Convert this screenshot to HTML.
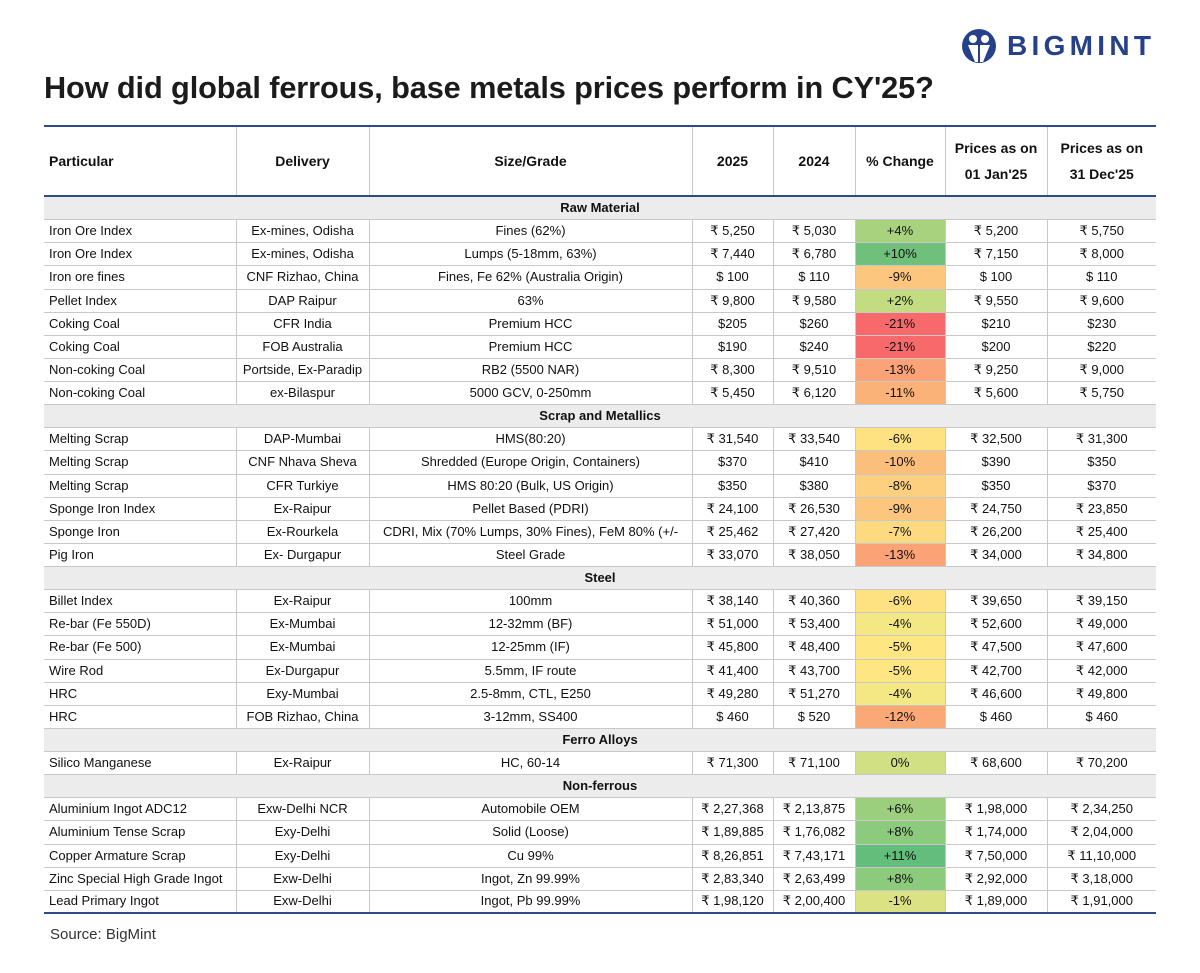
<!DOCTYPE html>
<html><head><meta charset="utf-8"><style>
body{margin:0;width:1200px;height:973px;background:#fff;font-family:"Liberation Sans",sans-serif;color:#111;position:relative;overflow:hidden}
h1{position:absolute;left:44px;top:70px;margin:0;font-size:30.7px;font-weight:bold;letter-spacing:-0.1px;color:#1b1b1b}
.logo{position:absolute;left:960px;top:28px;display:flex;align-items:center;gap:9px}
.logo span{font-size:28px;font-weight:bold;color:#26418a;letter-spacing:4.3px}
table{position:absolute;left:44px;top:125px;width:1112px;border-collapse:collapse;table-layout:fixed;font-size:13px}
td,th{border:1px solid #c8c8c8;text-align:center;padding:0;height:21px;line-height:14px;white-space:nowrap;overflow:hidden}
thead th{height:68px;font-size:14px;font-weight:bold;line-height:26px;border-top:2px solid #2f4a8a;border-bottom:2px solid #2f4a8a}
td:first-child,th:first-child{text-align:left;padding-left:5px;border-left:none}
td:last-child,th:last-child{border-right:none}
tr.sec td{background:#ececec;font-weight:bold;text-align:center;padding:0}
tbody tr:last-child td{border-bottom:2px solid #2f4a8a}
.src{position:absolute;left:50px;top:926px;font-size:15px;color:#333}
</style></head><body>
<h1>How did global ferrous, base metals prices perform in CY'25?</h1>
<div class="logo">
<svg width="38" height="36" viewBox="0 0 38 36"><circle cx="19" cy="18" r="17" fill="#26418a"/><circle cx="13" cy="11" r="4" fill="#fff"/><circle cx="25" cy="11" r="4" fill="#fff"/><path d="M8 17h10v17h-3zM20 17h10l-7 17h-3z" fill="#fff"/></svg>
<span>BIGMINT</span></div>
<table id="tbl">
<colgroup><col style="width:192px"><col style="width:133px"><col style="width:323px"><col style="width:81px"><col style="width:82px"><col style="width:90px"><col style="width:102px"><col style="width:109px"></colgroup>
<thead><tr><th>Particular</th><th>Delivery</th><th>Size/Grade</th><th>2025</th><th>2024</th><th>% Change</th><th>Prices as on<br>01 Jan'25</th><th>Prices as on<br>31 Dec'25</th></tr></thead>
<tbody id="tb"></tbody></table>
<div class="src">Source: BigMint</div>
<script>
const sections=["Raw Material","Scrap and Metallics","Steel","Ferro Alloys","Non-ferrous"];
const rows=[
[0,"Iron Ore Index","Ex-mines, Odisha","Fines (62%)","₹ 5,250","₹ 5,030","+4%","₹ 5,200","₹ 5,750","#a9d27f"],
[0,"Iron Ore Index","Ex-mines, Odisha","Lumps (5-18mm, 63%)","₹ 7,440","₹ 6,780","+10%","₹ 7,150","₹ 8,000","#6fc07a"],
[0,"Iron ore fines","CNF Rizhao, China","Fines, Fe 62% (Australia Origin)","$ 100","$ 110","-9%","$ 100","$ 110","#fcc67e"],
[0,"Pellet Index","DAP Raipur","63%","₹ 9,800","₹ 9,580","+2%","₹ 9,550","₹ 9,600","#c4dc81"],
[0,"Coking Coal","CFR India","Premium HCC","$205","$260","-21%","$210","$230","#f8696b"],
[0,"Coking Coal","FOB Australia","Premium HCC","$190","$240","-21%","$200","$220","#f8696b"],
[0,"Non-coking Coal","Portside, Ex-Paradip","RB2 (5500 NAR)","₹ 8,300","₹ 9,510","-13%","₹ 9,250","₹ 9,000","#fba276"],
[0,"Non-coking Coal","ex-Bilaspur","5000 GCV, 0-250mm","₹ 5,450","₹ 6,120","-11%","₹ 5,600","₹ 5,750","#fbb279"],
[1,"Melting Scrap","DAP-Mumbai","HMS(80:20)","₹ 31,540","₹ 33,540","-6%","₹ 32,500","₹ 31,300","#fee282"],
[1,"Melting Scrap","CNF Nhava Sheva","Shredded (Europe Origin, Containers)","$370","$410","-10%","$390","$350","#fcbf7b"],
[1,"Melting Scrap","CFR Turkiye","HMS 80:20 (Bulk, US Origin)","$350","$380","-8%","$350","$370","#fdd07f"],
[1,"Sponge Iron Index","Ex-Raipur","Pellet Based (PDRI)","₹ 24,100","₹ 26,530","-9%","₹ 24,750","₹ 23,850","#fcc67e"],
[1,"Sponge Iron","Ex-Rourkela","CDRI, Mix (70% Lumps, 30% Fines), FeM 80% (+/-","₹ 25,462","₹ 27,420","-7%","₹ 26,200","₹ 25,400","#fdd980"],
[1,"Pig Iron","Ex- Durgapur","Steel Grade","₹ 33,070","₹ 38,050","-13%","₹ 34,000","₹ 34,800","#fba276"],
[2,"Billet Index","Ex-Raipur","100mm","₹ 38,140","₹ 40,360","-6%","₹ 39,650","₹ 39,150","#fee282"],
[2,"Re-bar (Fe 550D)","Ex-Mumbai","12-32mm (BF)","₹ 51,000","₹ 53,400","-4%","₹ 52,600","₹ 49,000","#f3e884"],
[2,"Re-bar (Fe 500)","Ex-Mumbai","12-25mm (IF)","₹ 45,800","₹ 48,400","-5%","₹ 47,500","₹ 47,600","#fee783"],
[2,"Wire Rod","Ex-Durgapur","5.5mm, IF route","₹ 41,400","₹ 43,700","-5%","₹ 42,700","₹ 42,000","#fee783"],
[2,"HRC","Exy-Mumbai","2.5-8mm, CTL, E250","₹ 49,280","₹ 51,270","-4%","₹ 46,600","₹ 49,800","#f3e884"],
[2,"HRC","FOB Rizhao, China","3-12mm, SS400","$ 460","$ 520","-12%","$ 460","$ 460","#fba877"],
[3,"Silico Manganese","Ex-Raipur","HC, 60-14","₹ 71,300","₹ 71,100","0%","₹ 68,600","₹ 70,200","#d2e084"],
[4,"Aluminium Ingot ADC12","Exw-Delhi NCR","Automobile OEM","₹ 2,27,368","₹ 2,13,875","+6%","₹ 1,98,000","₹ 2,34,250","#9bcf7d"],
[4,"Aluminium Tense Scrap","Exy-Delhi","Solid (Loose)","₹ 1,89,885","₹ 1,76,082","+8%","₹ 1,74,000","₹ 2,04,000","#8ccb7d"],
[4,"Copper Armature Scrap","Exy-Delhi","Cu 99%","₹ 8,26,851","₹ 7,43,171","+11%","₹ 7,50,000","₹ 11,10,000","#63be7b"],
[4,"Zinc Special High Grade Ingot","Exw-Delhi","Ingot, Zn 99.99%","₹ 2,83,340","₹ 2,63,499","+8%","₹ 2,92,000","₹ 3,18,000","#8ccb7d"],
[4,"Lead Primary Ingot","Exw-Delhi","Ingot, Pb 99.99%","₹ 1,98,120","₹ 2,00,400","-1%","₹ 1,89,000","₹ 1,91,000","#dbe283"]];
const tb=document.getElementById('tb');
let cur=-1;
rows.forEach(r=>{
 if(r[0]!==cur){cur=r[0];
  const s=document.createElement('tr');s.className='sec';
  
  
  s.innerHTML='<td colspan="8">'+sections[cur]+'</td>';tb.appendChild(s);}
 const tr=document.createElement('tr');
 
 
 for(let i=1;i<=8;i++){const td=document.createElement('td');td.textContent=r[i];if(i===6)td.style.background=r[9];tr.appendChild(td);}
 tb.appendChild(tr);
});
// fit body rows so table bottom lands at y=913
const trs=[...tb.children];
const tbTop=tb.getBoundingClientRect().top;
const step=(913-tbTop)/trs.length;
trs.forEach((tr,i)=>{
 const target=Math.round(tbTop+(i+1)*step);
 for(let k=0;k<3;k++){
  const b=tr.getBoundingClientRect().bottom;
  const d=target-b;
  if(Math.abs(d)<0.5)break;
  const td=tr.children[0];
  const h=parseFloat(getComputedStyle(td).height)||21;
  [...tr.children].forEach(c=>c.style.height=(h+d)+'px');
 }
});
</script>
</body></html>
